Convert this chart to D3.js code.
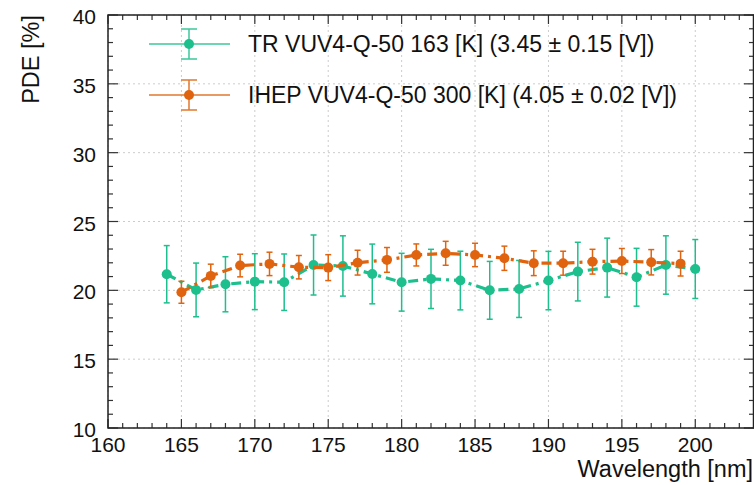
<!DOCTYPE html>
<html><head><meta charset="utf-8">
<script src="https://cdn.jsdelivr.net/npm/d3@7"></script>
<style>
html,body{margin:0;padding:0;background:#fff;}
svg{display:block;font-family:"Liberation Sans",Arial,Helvetica,sans-serif;}
</style></head>
<body>
<svg id="c" width="754" height="485"></svg>
<script>
// ---- data ----
const trWavelength = [164,166,168,170,172,174,176,178,180,182,184,186,188,190,192,194,196,198,200];
const trPDE        = [21.17,20.03,20.44,20.63,20.59,21.84,21.77,21.19,20.59,20.83,20.71,20.00,20.10,20.71,21.36,21.65,20.95,21.84,21.55];
const trErr        = [2.08,1.95,2.00,2.03,2.05,2.18,2.19,2.17,2.10,2.15,2.13,2.10,2.07,2.12,2.13,2.14,2.10,2.12,2.14];
const ihepWavelength = [165,167,169,171,173,175,177,179,181,183,185,187,189,191,193,195,197,199];
const ihepPDE        = [19.86,21.05,21.80,21.92,21.68,21.65,22.01,22.21,22.57,22.69,22.57,22.33,21.97,21.97,22.08,22.13,22.04,21.94];
const ihepErr        = [0.80,0.85,0.82,0.85,0.85,0.94,0.90,0.90,0.80,0.87,0.85,0.88,0.90,0.87,0.90,0.91,0.92,0.90];
const seriesNames = ["TR VUV4-Q-50 163 [K] (3.45 \u00b1 0.15 [V])", "IHEP VUV4-Q-50 300 [K] (4.05 \u00b1 0.02 [V])"];
const xTicks = [160,165,170,175,180,185,190,195,200];
const yTicks = [10,15,20,25,30,35,40];
const xTitle = "Wavelength [nm]";
const yTitle = "PDE [%]";

const colors = ["#1dbf8c", "#e0640f"];
const legendColors = ["#3cc79b", "#e0782e"];

const svg = d3.select("#c");
const L = 108, R = 754, T = 15, B = 428;
const x = d3.scaleLinear().domain([160,204]).range([L,R]);
const y = d3.scaleLinear().domain([10,40]).range([B,T]);

// grid
const grid = svg.append("g");
xTicks.forEach(t => grid.append("line").attr("x1",x(t)).attr("x2",x(t)).attr("y1",T).attr("y2",B)
  .attr("stroke","#cccccc").attr("stroke-width",1).attr("stroke-dasharray","2,3"));
yTicks.forEach(t => grid.append("line").attr("x1",L).attr("x2",R).attr("y1",y(t)).attr("y2",y(t))
  .attr("stroke","#cccccc").attr("stroke-width",1).attr("stroke-dasharray","2,3"));

// axes (ticks inward)
const xMinor = d3.range(160,205,1);
const yMinor = d3.range(10,41,1);
const axG = svg.append("g").attr("stroke","#333").attr("stroke-width",1.2);
xMinor.forEach(t => {
  const len = (t%5===0)?9:5;
  axG.append("line").attr("x1",x(t)).attr("x2",x(t)).attr("y1",B).attr("y2",B-len);
  axG.append("line").attr("x1",x(t)).attr("x2",x(t)).attr("y1",T).attr("y2",T+len);
});
yMinor.forEach(t => {
  const len = (t%5===0)?10:5;
  axG.append("line").attr("x1",L).attr("x2",L+len).attr("y1",y(t)).attr("y2",y(t));
  axG.append("line").attr("x1",R).attr("x2",R-len).attr("y1",y(t)).attr("y2",y(t));
});
svg.append("rect").attr("x",L).attr("y",T).attr("width",R-L-0.5).attr("height",B-T)
  .attr("fill","none").attr("stroke","#222").attr("stroke-width",1.5);

// tick labels
xTicks.forEach(t => svg.append("text").attr("x",x(t)).attr("y",452).attr("text-anchor","middle")
  .attr("font-size",21).attr("fill","#111").text(t));
yTicks.forEach(t => svg.append("text").attr("x",96).attr("y",y(t)+9).attr("text-anchor","end")
  .attr("font-size",21).attr("fill","#111").text(t));
svg.append("text").attr("x",753).attr("y",477).attr("text-anchor","end").attr("font-size",23.5)
  .attr("fill","#111").text(xTitle);
svg.append("text").attr("transform","translate(39,15) rotate(-90)").attr("text-anchor","end")
  .attr("font-size",23.5).attr("fill","#111").text(yTitle);

// series
const series = [
  {xs: trWavelength, ys: trPDE, es: trErr},
  {xs: ihepWavelength, ys: ihepPDE, es: ihepErr}
];
const plot = svg.append("g");
series.forEach((s,i) => {
  const pts = s.xs.map((w,k)=>({x:w,y:s.ys[k],e:s.es[k]}));
  const g = plot.append("g");
  g.selectAll("line.eb").data(pts).join("line").attr("class","eb")
    .attr("x1",d=>x(d.x)).attr("x2",d=>x(d.x)).attr("y1",d=>y(d.y+d.e)).attr("y2",d=>y(d.y-d.e))
    .attr("stroke",colors[i]).attr("stroke-width",1.5);
  [1,-1].forEach(sg => g.selectAll("line.cap"+sg).data(pts).join("line")
    .attr("x1",d=>x(d.x)-3).attr("x2",d=>x(d.x)+3).attr("y1",d=>y(d.y+sg*d.e)).attr("y2",d=>y(d.y+sg*d.e))
    .attr("stroke",colors[i]).attr("stroke-width",1.5));
  g.append("path").datum(pts).attr("d",d3.line().x(d=>x(d.x)).y(d=>y(d.y)))
    .attr("fill","none").attr("stroke",colors[i]).attr("stroke-width",3.2).attr("stroke-dasharray","10,5,3,5");
  g.selectAll("circle").data(pts).join("circle").attr("cx",d=>x(d.x)).attr("cy",d=>y(d.y)).attr("r",5)
    .attr("fill",colors[i]);
});

// legend
const legY = [44, 95];
series.forEach((s,i) => {
  const g = svg.append("g");
  const cy = legY[i], cx = 189;
  g.append("line").attr("x1",149).attr("x2",230).attr("y1",cy).attr("y2",cy).attr("stroke",legendColors[i]).attr("stroke-width",1.5);
  g.append("line").attr("x1",cx).attr("x2",cx).attr("y1",cy-15).attr("y2",cy+15).attr("stroke",legendColors[i]).attr("stroke-width",1.5);
  [cy-15,cy+15].forEach(yy => g.append("line").attr("x1",cx-8).attr("x2",cx+8).attr("y1",yy).attr("y2",yy).attr("stroke",legendColors[i]).attr("stroke-width",1.5));
  g.append("circle").attr("cx",cx).attr("cy",cy).attr("r",5).attr("fill",colors[i]);
  g.append("text").attr("x",248).attr("y",cy+7.5).attr("font-size",23).attr("fill","#111").text(seriesNames[i]);
});
</script>
</body></html>
